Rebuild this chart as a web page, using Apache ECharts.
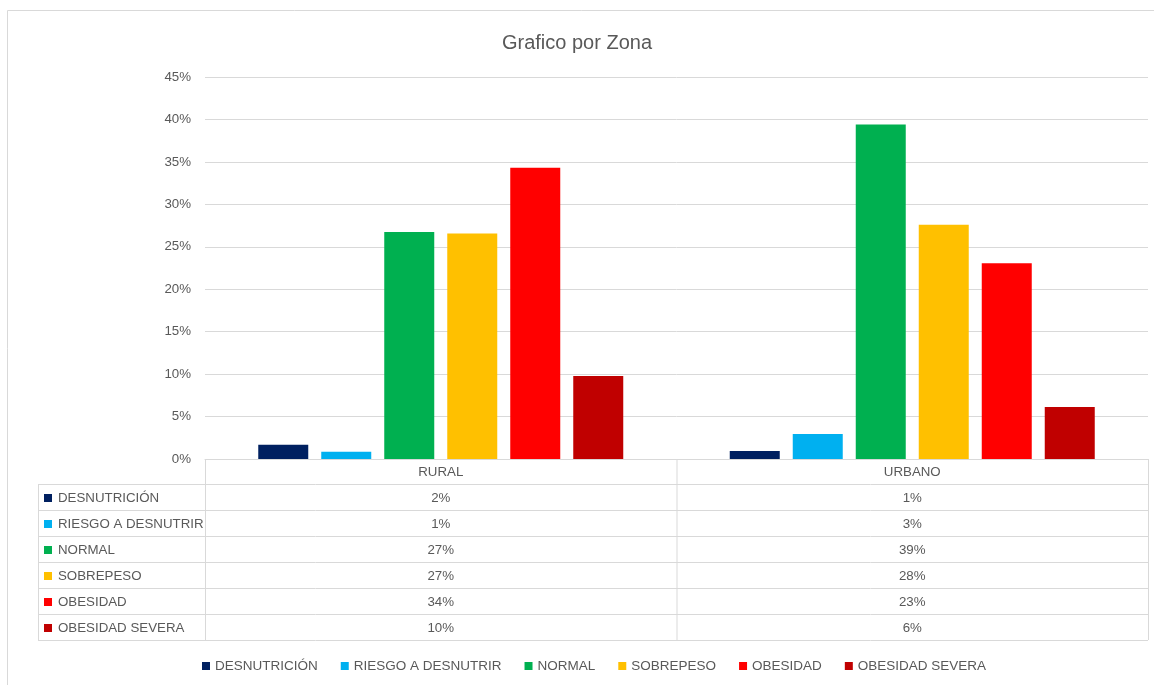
<!DOCTYPE html>
<html>
<head>
<meta charset="utf-8">
<script src="https://cdn.jsdelivr.net/npm/echarts@6/dist/echarts.min.js"></script>
<style>
	html, body { margin: 0; padding: 0; background: #fff; }
	#chart { width: 1154px; height: 685px; }
</style>
</head>
<body>
<div id="chart"></div>
<script>
// datos
var zonas = ['RURAL', 'URBANO'];
var estados = ['DESNUTRICIÓN', 'RIESGO A DESNUTRIR', 'NORMAL', 'SOBREPESO', 'OBESIDAD', 'OBESIDAD SEVERA'];
var colores = ['#002060', '#00B0F0', '#00B050', '#FFC000', '#FF0000', '#C00000'];
var desnutricion = [0.0168, 0.0094];
var riesgo = [0.0086, 0.0294];
var normal = [0.2675, 0.3940];
var sobrepeso = [0.2655, 0.2760];
var obesidad = [0.3430, 0.2305];
var severa = [0.0978, 0.0612];
var yTicks = [0, 0.05, 0.10, 0.15, 0.20, 0.25, 0.30, 0.35, 0.40, 0.45];

var valores = [desnutricion, riesgo, normal, sobrepeso, obesidad, severa];

var gris = '#595959';
var linea = '#d9d9d9';
var fuente = 'Liberation Sans';

// layout
var gLeft = 205, gRight = 1148, gTop = 77, gBottom = 459;
var tLeft = 38, hdrH = 25, rowH = 26;

function pct(v){
	return Math.round(v * 100) + '%';
}

var series = [];
for (var i = 0; i < estados.length; i++) {
	series.push({
		name: estados[i],
		type: 'bar',
		barWidth: 50,
		barGap: '26%',
		itemStyle: { color: colores[i] },
		data: valores[i]
	});
}

// tabla de datos
var graficos = [];
// borde exterior
graficos.push({
	type: 'rect', shape: { x: 7.5, y: 10.5, width: 1160, height: 690 },
	style: { fill: 'none', stroke: linea, lineWidth: 1 }, silent: true
});
var tTop = gBottom + hdrH;
var tBottom = tTop + rowH * estados.length;
var colW = (gRight - gLeft) / zonas.length;
// líneas horizontales
for (var r = 0; r <= estados.length; r++) {
	var y = tTop + r * rowH + 0.5;
	graficos.push({ type: 'line', shape: { x1: tLeft, y1: y, x2: gRight, y2: y }, style: { stroke: linea, lineWidth: 1 }, silent: true });
}
// líneas verticales
graficos.push({ type: 'line', shape: { x1: tLeft + 0.5, y1: tTop, x2: tLeft + 0.5, y2: tBottom }, style: { stroke: linea, lineWidth: 1 }, silent: true });
for (var c = 0; c <= zonas.length; c++) {
	var x = gLeft + c * colW + 0.5;
	graficos.push({ type: 'line', shape: { x1: x, y1: gBottom, x2: x, y2: tBottom }, style: { stroke: linea, lineWidth: 1 }, silent: true });
}
// filas
for (var i = 0; i < estados.length; i++) {
	var cy = tTop + i * rowH + rowH / 2 + 1;
	graficos.push({ type: 'rect', shape: { x: 44, y: cy - 4, width: 8, height: 8 }, style: { fill: colores[i] }, silent: true });
	graficos.push({
		type: 'text', x: 58, y: cy,
		style: { text: estados[i], fill: gris, font: '13.3px "' + fuente + '"', verticalAlign: 'middle', align: 'left' },
		silent: true
	});
	for (var c = 0; c < zonas.length; c++) {
		graficos.push({
			type: 'text', x: gLeft + colW * (c + 0.5), y: cy,
			style: { text: pct(valores[i][c]), fill: gris, font: '13.3px "' + fuente + '"', verticalAlign: 'middle', align: 'center' },
			silent: true
		});
	}
}

var chart = echarts.init(document.getElementById('chart'));
var option = {
	animation: false,
	textStyle: { fontFamily: fuente },
	title: {
		text: 'Grafico por Zona',
		left: 'center',
		top: 28,
		textStyle: { color: gris, fontSize: 20, fontWeight: 'normal', fontFamily: fuente }
	},
	legend: {
		data: estados,
		bottom: 7,
		left: 197,
		icon: 'rect',
		itemWidth: 8,
		itemHeight: 8,
		itemGap: 23,
		textStyle: { color: gris, fontSize: 13.5, fontFamily: fuente }
	},
	grid: {
		left: gLeft,
		right: 1154 - gRight,
		top: gTop,
		bottom: 685 - gBottom,
		containLabel: false
	},
	xAxis: {
		type: 'category',
		data: zonas,
		axisLine: { lineStyle: { color: linea } },
		axisTick: { show: false },
		axisLabel: { color: gris, fontSize: 13.3, margin: 7, fontFamily: fuente }
	},
	yAxis: {
		type: 'value',
		min: 0,
		max: yTicks[yTicks.length - 1],
		interval: 0.05,
		axisLine: { show: false },
		axisTick: { show: false },
		splitLine: { lineStyle: { color: linea } },
		axisLabel: {
			color: gris, fontSize: 13.3, margin: 14, fontFamily: fuente,
			formatter: function (v) { return pct(v); }
		}
	},
	graphic: graficos,
	series: series
};
chart.setOption(option);
</script>
</body>
</html>
